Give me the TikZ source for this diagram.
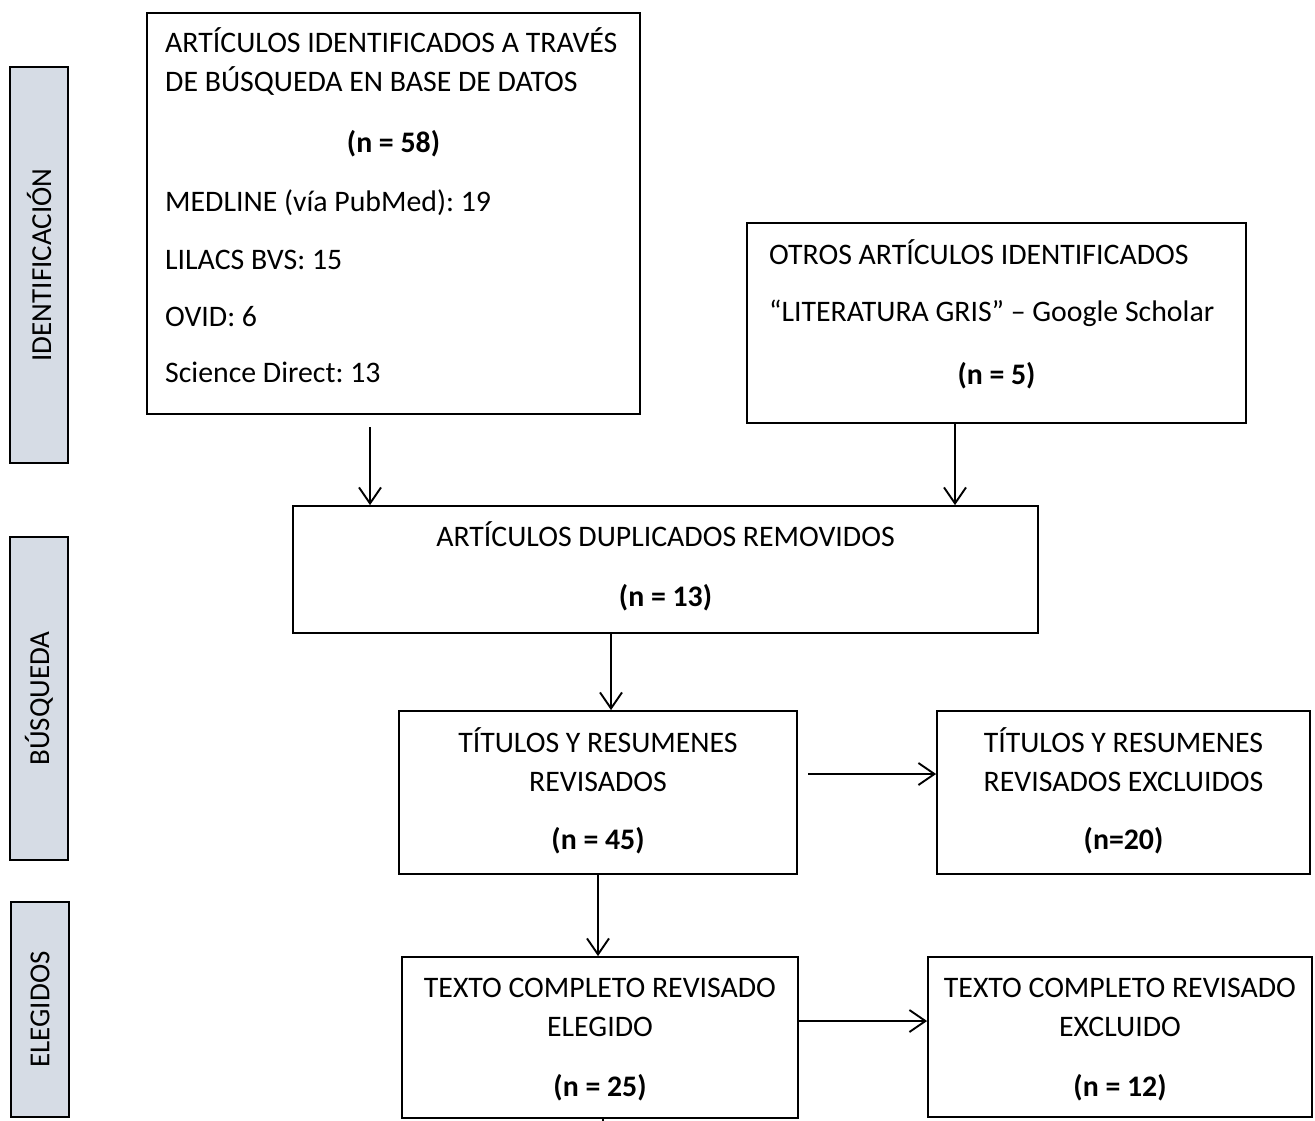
\documentclass[tikz,border=0pt]{standalone}
\usepackage{fontspec}
\setmainfont{Carlito}
\usetikzlibrary{arrows.meta,fit}
\definecolor{barfill}{HTML}{D6DCE5}
\frenchspacing
\begin{document}
\begin{tikzpicture}[x=1pt,y=-1pt,
  box/.style={draw, line width=1.8pt, inner sep=0pt},
  bar/.style={draw, line width=1.8pt, fill=barfill, inner sep=0pt},
  txt/.style={inner sep=0pt, anchor=base, font=\fontsize{29.8}{39}\selectfont},
  ltxt/.style={inner sep=0pt, anchor=base west, font=\fontsize{29.8}{39}\selectfont},
  btxt/.style={inner sep=0pt, anchor=base, font=\fontsize{29.8}{39}\selectfont\bfseries},
  vtxt/.style={inner sep=0pt, rotate=90, font=\fontsize{29}{39}\selectfont},
  arr/.style={line width=1.9pt, -{Straight Barb[length=16pt,width=22pt,line width=1.9pt]}}]
\useasboundingbox (0,0) rectangle (1315,1120);

% side bars
\node[bar, fit={(10,67) (68,463)}] (i1) {};
\node[bar, fit={(10,537) (68,860)}] (i2) {};
\node[bar, fit={(11,902) (69,1117)}] (i3) {};
\node[vtxt] (i1t) at (i1.center) {IDENTIFICACIÓN};
\node[vtxt] (i2t) at (i2.center) {BÚSQUEDA};
\node[vtxt] (i3t) at (i3.center) {ELEGIDOS};

% boxes
\node[box, fit={(147,13) (640,414)}] (b1) {};
\node[box, fit={(747,223) (1246,423)}] (b2) {};
\node[box, fit={(293,506) (1038,633)}] (b3) {};
\node[box, fit={(399,711) (797,874)}] (b4) {};
\node[box, fit={(937,711) (1310,874)}] (b5) {};
\node[box, fit={(402,957) (798,1118)}] (b6) {};
\node[box, fit={(928,957) (1312,1117)}] (b7) {};

% box 1 text
\node[ltxt] (t1a) at (165,52) {ARTÍCULOS IDENTIFICADOS A TRAVÉS};
\node[ltxt] (t1b) at (165,91) {DE BÚSQUEDA EN BASE DE DATOS};
\node[btxt] (t1n) at (393.5,152) {(n = 58)};
\node[ltxt] (t1c) at (165,211) {MEDLINE (vía PubMed): 19};
\node[ltxt] (t1d) at (165,269) {LILACS BVS: 15};
\node[ltxt] (t1e) at (165,326) {OVID: 6};
\node[ltxt] (t1f) at (165,382) {Science Direct: 13};

% box 2 text
\node[ltxt] (t2a) at (769,264) {OTROS ARTÍCULOS IDENTIFICADOS};
\node[ltxt] (t2b) at (769,321) {“LITERATURA GRIS” – Google Scholar};
\node[btxt] (t2n) at (996.5,384) {(n = 5)};

% box 3 text
\node[txt] (t3a) at (665.5,546) {ARTÍCULOS DUPLICADOS REMOVIDOS};
\node[btxt] (t3n) at (665.5,606) {(n = 13)};

% box 4 text
\node[txt] (t4a) at (598,752) {TÍTULOS Y RESUMENES};
\node[txt] (t4b) at (598,791) {REVISADOS};
\node[btxt] (t4n) at (598,849) {(n = 45)};

% box 5 text
\node[txt] (t5a) at (1123.5,752) {TÍTULOS Y RESUMENES};
\node[txt] (t5b) at (1123.5,791) {REVISADOS EXCLUIDOS};
\node[btxt] (t5n) at (1123.5,849) {(n=20)};

% box 6 text
\node[txt] (t6a) at (600,997) {TEXTO COMPLETO REVISADO};
\node[txt] (t6b) at (600,1036) {ELEGIDO};
\node[btxt] (t6n) at (600,1096) {(n = 25)};

% box 7 text
\node[txt] (t7a) at (1120,997) {TEXTO COMPLETO REVISADO};
\node[txt] (t7b) at (1120,1036) {EXCLUIDO};
\node[btxt] (t7n) at (1120,1096) {(n = 12)};

% connectors
\coordinate (a1s) at (370,427);
\coordinate (a2x) at (955,0);
\coordinate (a3x) at (611,0);
\coordinate (h1s) at (808,774);
\coordinate (a4x) at (598,0);
\coordinate (h2y) at (0,1021);
\coordinate (a5x) at (603,0);
\coordinate (a5e) at (603,1125);

\draw[arr] (a1s) -- (a1s |- b3.north);
\draw[arr] (a2x |- b2.south) -- (a2x |- b3.north);
\draw[arr] (a3x |- b3.south) -- (a3x |- b4.north);
\draw[arr] (h1s) -- (h1s -| b5.west);
\draw[arr] (a4x |- b4.south) -- (a4x |- b6.north);
\draw[arr] (h2y -| b6.east) -- (h2y -| b7.west);
\draw[line width=1.8pt] (a5x |- b6.south) -- (a5e);
\end{tikzpicture}
\end{document}
